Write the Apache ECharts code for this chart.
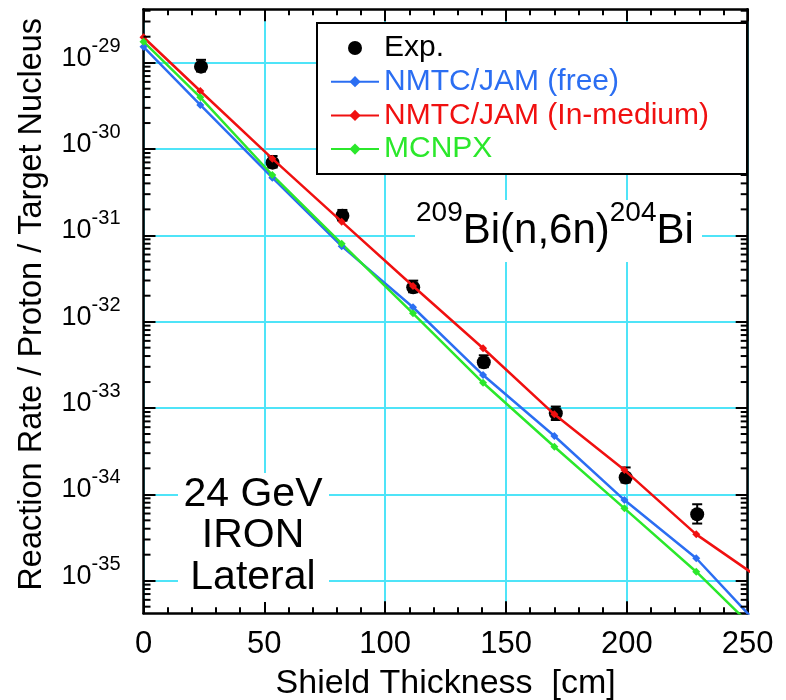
<!DOCTYPE html>
<html>
<head>
<meta charset="utf-8">
<script src="https://cdn.jsdelivr.net/npm/echarts@6/dist/echarts.min.js"></script>
<style>html,body{margin:0;padding:0;background:#fff}#c{width:786px;height:700px}</style>
</head>
<body>
<div id="c"></div>
<script>
// ---------- data ----------
const modelThickness = [0, 23.5, 53.3, 82, 111.5, 140.5, 170, 199, 228.7, 258];
const jamFree   = [1.53e-29, 3.24e-30, 4.66e-31, 7.5e-32, 1.47e-32, 2.41e-33, 4.74e-34, 8.59e-35, 1.82e-35, 2.4e-36];
const jamMedium = [1.97e-29, 4.70e-30, 7.73e-31, 1.44e-31, 2.59e-32, 4.92e-33, 8.45e-34, 1.91e-34, 3.44e-35, 9.3e-36];
const mcnpx     = [1.75e-29, 3.97e-30, 5.0e-31, 8.0e-32, 1.25e-32, 1.96e-33, 3.56e-34, 6.89e-35, 1.27e-35, 2.0e-36];

const expThickness = [23.8, 53.4, 82.3, 111.6, 140.8, 170.6, 199.5, 229.1];
const expRate = [9.0e-30, 6.95e-31, 1.69e-31, 2.50e-32, 3.39e-33, 8.69e-34, 1.57e-34, 5.88e-35];
const expHigh = [1.08e-29, 8.3e-31, 1.97e-31, 2.99e-32, 4.08e-33, 1.04e-33, 2.05e-34, 7.68e-35];
const expLow  = [7.9e-30, 6.1e-31, 1.48e-31, 2.19e-32, 2.97e-33, 7.27e-34, 1.37e-34, 4.59e-35];

const seriesNames = ['Exp.', 'NMTC/JAM (free)', 'NMTC/JAM (In-medium)', 'MCNPX'];
const X_MIN = 0, X_MAX = 250, X_STEP = 50;
const Y_MIN = 4.19e-36, Y_MAX = 4.155e-29;
const minorMultipliers = [2, 3, 4, 5, 6, 7, 8, 9];
const decadeExponents = [-36, -35, -34, -33, -32, -31, -30, -29];

// ---------- styles ----------
const FONT = '"Liberation Sans", Arial, Helvetica, sans-serif';
const CYAN = '#4FE4F8';
const BLUE = '#2B6EF2';
const RED = '#F01010';
const GREEN = '#2BE82B';

const zip = (xs, ys) => xs.map((x, i) => [x, ys[i]]);
const minorTickValues = [];
decadeExponents.forEach(e => minorMultipliers.forEach(k => {
  const v = k * Math.pow(10, e);
  if (v > Y_MIN && v < Y_MAX) minorTickValues.push([0, v]);
}));

const chart = echarts.init(document.getElementById('c'), null, {renderer: 'canvas'});

const axisLineStyle = {color: '#000', width: 2.5};
const tickStyle = {color: '#000', width: 2};

const lineSeries = (name, ys, color) => ({
  type: 'line', name: name, z: 4,
  data: zip(modelThickness, ys),
  symbol: 'diamond', symbolSize: 8, showSymbol: true, showAllSymbol: true,
  lineStyle: {color: color, width: 2.5}, itemStyle: {color: color}
});

const option = {
  animation: false,
  backgroundColor: '#fff',
  grid: {left: 143.5, right: 38.3, top: 9.3, bottom: 86.7, containLabel: false, outerBoundsMode: 'none'},
  xAxis: [{
    type: 'value', min: X_MIN, max: X_MAX, interval: X_STEP, position: 'bottom',
    axisLine: {show: true, onZero: false, lineStyle: axisLineStyle},
    axisTick: {show: true, inside: true, length: 12, lineStyle: tickStyle},
    minorTick: {show: true, splitNumber: 5, length: 6, lineStyle: tickStyle},
    axisLabel: {show: true, color: '#000', fontSize: 31, fontFamily: FONT, margin: 16},
    splitLine: {show: true, lineStyle: {color: CYAN, width: 2}},
    name: 'Shield Thickness  [cm]', nameLocation: 'middle', nameGap: 53.7,
    nameTextStyle: {color: '#000', fontSize: 34, fontFamily: FONT}
  }, {
    type: 'value', min: X_MIN, max: X_MAX, interval: X_STEP, position: 'top',
    axisLine: {show: true, onZero: false, lineStyle: axisLineStyle},
    axisTick: {show: true, inside: true, length: 12, lineStyle: tickStyle},
    minorTick: {show: true, splitNumber: 5, length: 6, lineStyle: tickStyle},
    axisLabel: {show: false}, splitLine: {show: false}
  }],
  yAxis: [{
    type: 'log', logBase: 10, min: Y_MIN, max: Y_MAX, splitNumber: 7, position: 'left',
    axisLine: {show: true, onZero: false, lineStyle: axisLineStyle},
    axisTick: {show: true, inside: true, length: 12, lineStyle: tickStyle},
    axisLabel: {
      show: true, margin: 23, showMinLabel: false, showMaxLabel: false,
      formatter: v => '{b|10}{s|' + Math.round(Math.log10(v)) + '}',
      rich: {
        b: {fontSize: 27, fontFamily: FONT, color: '#000', lineHeight: 26, padding: [12.6, 0, 21.4, 0]},
        s: {fontSize: 20, fontFamily: FONT, color: '#000', lineHeight: 20, padding: [3.6, 0, 36.4, 0]}
      }
    },
    splitLine: {show: true, lineStyle: {color: CYAN, width: 2}},
    name: 'Reaction Rate / Proton / Target Nucleus', nameLocation: 'middle', nameGap: 95,
    nameTextStyle: {color: '#000', fontSize: 32.5, fontFamily: FONT, padding: [0, 0, 0, 14]}
  }, {
    type: 'log', logBase: 10, min: Y_MIN, max: Y_MAX, splitNumber: 7, position: 'right',
    axisLine: {show: true, onZero: false, lineStyle: axisLineStyle},
    axisTick: {show: true, inside: true, length: 12, lineStyle: tickStyle},
    axisLabel: {show: false}, splitLine: {show: false}
  }],
  legend: {
    orient: 'vertical', left: 317, top: 23,
    backgroundColor: '#fff', borderColor: '#000', borderWidth: 2,
    padding: [10, 38, 10, 13], itemGap: 3.7, itemWidth: 48, itemHeight: 14,
    textStyle: {fontSize: 30, fontFamily: FONT},
    data: [
      {name: seriesNames[0], icon: 'circle', textStyle: {color: '#000'}},
      {name: seriesNames[1], textStyle: {color: BLUE}},
      {name: seriesNames[2], textStyle: {color: RED}},
      {name: seriesNames[3], textStyle: {color: GREEN}}
    ],
    z: 8
  },
  graphic: [
    {type: 'rect', z: 10, shape: {x: 178, y: 473, width: 151, height: 129}, style: {fill: '#fff'}},
    {type: 'text', z: 11, x: 253, y: 536,
     style: {text: '24 GeV\nIRON\nLateral', fill: '#000', fontSize: 41, fontFamily: FONT,
             align: 'center', verticalAlign: 'middle', lineHeight: 41.7}},
    {type: 'rect', z: 10, shape: {x: 415, y: 200, width: 287, height: 62}, style: {fill: '#fff'}},
    {type: 'text', z: 11, x: 416, y: 200,
     style: {text: '{s|209}{m|Bi(n,6n)}{s|204}{m|Bi}', align: 'left', verticalAlign: 'top',
             rich: {
               m: {fontSize: 42, fontFamily: FONT, fill: '#000', lineHeight: 41, padding: [22.2, 0, 0, 0]},
               s: {fontSize: 28, fontFamily: FONT, fill: '#000', lineHeight: 28, padding: [10.3, 0, 24.9, 0]}
             }}}
  ],
  series: [
    {
      type: 'custom', name: 'errbars', silent: true, z: 2,
      data: expThickness.map((x, i) => [x, expLow[i], expHigh[i]]),
      encode: {x: 0, y: [1, 2]},
      renderItem: (params, api) => {
        const x = api.value(0);
        const lo = api.coord([x, api.value(1)]);
        const hi = api.coord([x, api.value(2)]);
        const cw = 5;
        const st = {stroke: '#000', lineWidth: 2};
        return {type: 'group', children: [
          {type: 'line', shape: {x1: lo[0], y1: lo[1], x2: hi[0], y2: hi[1]}, style: st},
          {type: 'line', shape: {x1: lo[0] - cw, y1: lo[1], x2: lo[0] + cw, y2: lo[1]}, style: st},
          {type: 'line', shape: {x1: hi[0] - cw, y1: hi[1], x2: hi[0] + cw, y2: hi[1]}, style: st}
        ]};
      }
    },
    {
      type: 'scatter', name: seriesNames[0], z: 3,
      data: zip(expThickness, expRate),
      symbol: 'circle', symbolSize: 14,
      itemStyle: {color: '#000', opacity: 1}
    },
    lineSeries(seriesNames[1], jamFree, BLUE),
    lineSeries(seriesNames[2], jamMedium, RED),
    lineSeries(seriesNames[3], mcnpx, GREEN),
    {
      type: 'custom', name: 'minorTicks', silent: true, z: 6,
      data: minorTickValues,
      encode: {x: 0, y: 1},
      renderItem: (params, api) => {
        const p = api.coord([0, api.value(1)]);
        const cs = params.coordSys;
        const len = 7;
        const st = {stroke: '#000', lineWidth: 2};
        return {type: 'group', children: [
          {type: 'line', shape: {x1: cs.x, y1: p[1], x2: cs.x + len, y2: p[1]}, style: st},
          {type: 'line', shape: {x1: cs.x + cs.width - len, y1: p[1], x2: cs.x + cs.width, y2: p[1]}, style: st}
        ]};
      }
    }
  ]
};
chart.setOption(option);
</script>
</body>
</html>
